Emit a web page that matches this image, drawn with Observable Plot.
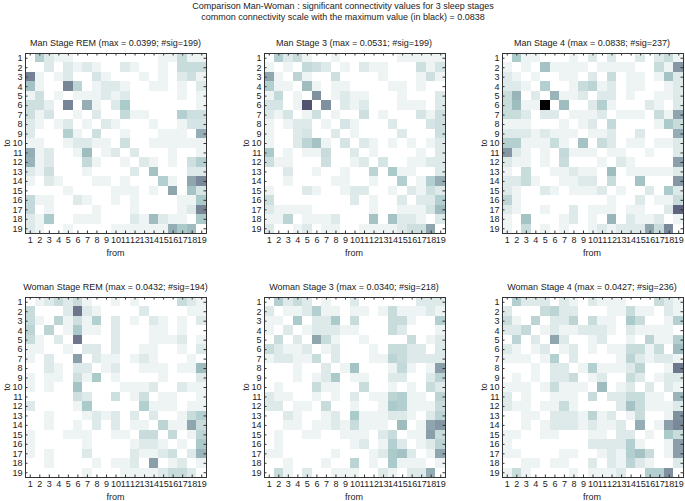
<!DOCTYPE html>
<html><head><meta charset="utf-8">
<script src="https://cdn.jsdelivr.net/npm/d3@7"></script>
<script src="https://cdn.jsdelivr.net/npm/@observablehq/plot@0.6"></script>
<style>
body{margin:0;background:#fff;}
#c{position:relative;width:685px;height:501px;font-family:"Liberation Sans",Arial,sans-serif;color:#222;overflow:hidden;background:#fff;}
.t{position:absolute;white-space:nowrap;font-size:9px;line-height:10px;transform:translate(-50%,-50%);}
.r{position:absolute;white-space:nowrap;font-size:9px;line-height:10px;transform:translate(-50%,-50%) rotate(-90deg);}
.p{position:absolute;}
</style></head><body><div id="c"></div>
<script>
// electrode indices (tick labels)
const nodes = [1,2,3,4,5,6,7,8,9,10,11,12,13,14,15,16,17,18,19];
const mainTitle = ["Comparison Man-Woman : significant connectivity values for 3 sleep stages",
  "common connectivity scale with the maximum value (in black) = 0.0838"];
const globalMax = 83.8; // thousandths
const panelNames = ["Man Stage REM","Man Stage 3","Man Stage 4","Woman Stage REM","Woman Stage 3","Woman Stage 4"];
const maxLabels = ["0.0399","0.0531","0.0838","0.0432","0.0340","0.0427"];
const sigCounts = [199,199,237,194,218,236];

// connectivity values x1000, rows = "to" 1..19, columns = "from" 1..19
const manREM = [
[0,18,8,4,4,0,0,0,0,0,0,0,0,0,4,4,13,4,4],
[0,0,8,0,8,4,8,4,0,0,8,4,0,0,4,0,13,13,13],
[39.9,4,0,4,8,0,0,10,4,0,0,0,4,0,4,0,8,12,4],
[22,4,0,0,39,16,0,4,8,8,4,0,0,4,4,0,4,0,8],
[4,12,0,4,0,4,4,4,8,4,8,0,0,0,0,0,4,0,4],
[12,12,6,0,39,0,28,4,0,8,20,0,0,0,0,0,0,0,4],
[12,4,10,0,0,4,0,8,0,0,14,4,4,0,0,0,18,12,12],
[8,4,0,4,8,0,4,0,8,4,0,0,0,4,0,0,4,10,10],
[8,0,0,0,18,4,0,12,0,0,4,0,0,0,4,4,4,0,28],
[4,4,0,0,4,8,8,4,4,0,12,0,0,4,4,4,4,4,4],
[28,4,8,0,0,4,24,0,4,8,0,8,0,0,0,4,0,0,4],
[26,4,8,0,0,0,14,4,0,0,4,0,8,4,0,4,0,12,18],
[8,4,12,0,0,0,4,0,0,0,0,8,0,22,0,0,0,8,8],
[4,0,8,4,0,0,0,4,4,0,4,0,0,0,18,4,0,30,38],
[0,0,0,0,4,0,0,0,0,4,4,4,0,4,0,30,0,22,10],
[14,4,4,0,0,8,4,0,0,4,0,4,0,0,0,0,4,4,20],
[14,0,4,0,0,0,0,4,0,0,0,4,0,0,0,0,4,8,39],
[8,4,20,0,0,4,4,4,0,0,0,8,4,24,8,4,4,0,20],
[8,4,0,0,4,0,0,0,0,4,4,4,4,4,4,28,20,24,0]];
const man3 = [
[0,18,8,13,4,0,0,4,0,0,0,0,0,0,4,4,4,4,4],
[4,0,4,0,14,12,8,0,4,0,8,4,4,0,0,0,12,4,10],
[30,4,0,16,4,0,0,12,0,0,0,0,4,0,0,0,4,12,4],
[18,4,4,0,24,4,0,4,4,0,0,0,0,4,4,0,4,0,0],
[4,14,0,4,0,36,0,4,8,4,4,0,0,0,4,0,0,0,8],
[10,10,0,4,53.1,0,36,0,8,4,8,0,0,0,4,4,4,0,8],
[8,4,10,0,4,12,0,4,0,0,12,0,4,0,0,0,10,4,12],
[4,0,4,8,8,0,4,0,10,4,0,0,0,8,0,0,0,10,12],
[4,0,0,8,10,0,0,8,0,4,0,0,0,0,8,0,0,0,12],
[4,0,0,8,16,22,4,0,10,0,8,4,0,4,0,4,0,4,8],
[20,0,4,0,4,4,13,0,0,8,0,4,0,0,0,0,4,0,8],
[12,4,4,0,0,0,12,0,0,4,8,0,10,0,0,4,4,8,8],
[0,0,8,0,0,4,0,0,4,0,0,16,0,20,4,4,0,0,8],
[0,0,4,0,0,0,0,4,4,0,0,4,0,0,18,0,4,18,28],
[4,0,0,0,8,4,0,0,4,8,8,0,0,4,0,8,4,12,8],
[12,0,0,0,0,0,0,0,0,8,0,4,0,0,8,0,8,8,18],
[8,4,4,4,4,0,0,0,0,0,0,4,0,0,4,4,4,10,24],
[4,4,16,0,4,4,4,8,0,0,0,22,0,22,8,8,4,0,8],
[8,0,0,4,8,0,4,4,0,0,4,4,4,4,8,12,12,30,0]];
const man4 = [
[0,20,4,4,0,0,0,4,0,8,0,8,0,0,8,0,8,13,4],
[4,0,4,0,22,4,4,4,4,0,4,4,4,4,0,0,13,4,34],
[8,4,0,4,0,0,4,4,0,8,0,13,0,4,4,0,4,22,8],
[8,8,4,0,18,0,0,4,13,16,4,8,0,4,4,0,0,4,8],
[13,26,0,8,0,26,4,4,8,0,8,8,0,4,0,0,4,4,8],
[13,24,4,4,83.8,0,24,0,0,8,18,4,0,0,0,8,4,0,8],
[13,13,8,0,8,8,0,4,4,4,8,0,4,4,4,0,13,4,30],
[4,4,4,0,0,0,4,0,4,8,0,14,0,0,0,0,4,20,13],
[8,8,8,4,8,4,4,4,0,4,4,8,0,0,8,0,0,0,28],
[18,18,4,4,4,13,4,0,22,0,13,8,0,4,4,0,4,4,8],
[34,8,4,0,4,0,14,4,4,4,0,4,4,0,0,4,0,0,8],
[8,4,4,0,4,0,13,0,0,0,4,0,8,4,0,0,0,0,32],
[4,0,13,0,0,4,4,8,4,4,0,24,0,4,4,4,4,4,8],
[8,8,13,4,0,0,4,4,8,8,0,13,0,0,22,0,0,0,34],
[8,4,0,0,8,4,0,4,4,4,8,0,4,0,0,8,0,20,8],
[16,4,0,0,0,0,0,0,0,0,0,4,0,0,8,0,4,4,13],
[8,4,0,0,4,0,0,8,0,4,4,4,0,4,4,0,0,8,48],
[4,0,22,0,0,0,4,8,0,4,0,26,0,8,4,4,8,0,4],
[4,0,13,0,4,0,4,0,0,4,8,4,8,8,8,30,13,38,0]];
const womanREM = [
[0,4,8,13,8,13,4,0,0,4,0,4,0,0,0,0,13,8,4],
[13,0,0,0,8,43.2,8,4,0,0,0,0,8,0,0,0,0,4,4],
[13,4,0,16,4,12,4,18,0,8,0,4,0,8,4,0,4,0,8],
[16,0,16,0,4,20,4,4,0,8,0,0,0,4,4,0,4,0,0],
[13,4,0,8,0,43,0,0,0,8,0,0,0,4,4,4,8,0,4],
[4,4,0,0,4,0,8,8,0,8,0,0,4,4,0,0,4,0,8],
[4,0,8,0,0,32,0,8,4,4,0,4,8,4,0,0,0,4,0],
[0,0,8,4,0,8,8,0,4,8,0,0,4,4,4,0,4,4,24],
[4,0,4,4,0,12,4,20,0,4,0,0,0,0,4,0,0,0,8],
[4,0,4,0,0,22,0,0,0,0,4,4,4,8,0,0,8,4,4],
[0,0,0,0,0,12,8,0,0,12,0,4,12,0,4,4,0,0,4],
[8,0,0,0,0,4,20,0,0,0,0,0,18,4,4,4,0,4,4],
[0,0,4,0,0,0,4,8,4,8,0,8,0,8,0,0,4,13,18],
[0,0,4,0,0,4,0,8,0,8,0,4,4,0,16,4,4,30,13],
[4,0,0,0,4,4,4,0,0,4,4,0,13,13,0,14,0,4,16],
[4,0,0,0,0,0,4,0,0,0,0,4,8,8,4,0,4,0,20],
[4,0,4,0,0,0,8,0,0,0,0,8,4,4,8,12,0,8,26],
[0,0,4,0,0,0,0,4,0,4,4,8,0,32,0,4,8,0,4],
[0,0,0,0,0,0,4,0,0,0,4,4,4,4,8,13,13,8,0]];
const woman3 = [
[0,18,8,13,8,0,4,0,0,8,0,0,0,0,0,0,8,8,8],
[8,0,4,4,8,18,4,4,0,4,4,0,4,13,4,4,4,8,4],
[4,4,0,20,0,8,8,20,0,13,0,0,0,13,13,4,0,0,18],
[4,0,8,0,4,8,8,8,4,4,0,0,0,13,8,0,0,0,4],
[0,13,0,8,0,30,13,4,0,0,4,0,0,0,0,13,0,4,8],
[13,8,4,4,8,0,4,8,0,0,0,4,0,13,13,8,8,0,8],
[4,8,8,4,4,13,0,8,0,0,0,4,4,16,13,8,8,8,8],
[0,0,0,4,0,0,8,0,4,22,0,0,0,4,14,4,0,4,32],
[0,0,0,4,0,4,8,20,0,4,4,0,0,8,8,0,0,8,16],
[0,4,0,0,0,13,4,4,0,0,13,0,0,4,0,4,0,13,8],
[8,4,4,0,0,4,0,4,0,8,0,4,4,16,18,4,4,0,16],
[8,8,0,4,4,0,13,0,0,4,0,0,4,20,18,4,4,4,13],
[0,0,8,4,0,0,4,8,0,20,4,4,4,8,8,4,0,8,16],
[0,0,4,4,0,4,4,8,4,13,4,4,4,0,24,0,4,30,34],
[0,4,0,0,4,4,0,0,4,4,4,0,8,13,0,4,4,32,13],
[0,4,0,0,0,0,0,0,0,4,8,0,4,18,8,0,4,8,16],
[4,4,0,0,0,0,0,4,0,0,0,4,8,20,22,8,0,4,30],
[0,0,4,0,0,0,4,0,0,16,0,4,0,20,4,4,4,0,4],
[0,13,4,0,8,0,0,4,4,4,0,0,8,4,0,8,8,28,0]];
const woman4 = [
[0,18,8,8,8,0,8,4,0,8,4,4,4,0,0,0,13,8,4],
[8,0,0,0,13,16,8,8,0,0,0,4,4,13,4,4,0,8,4],
[13,4,0,16,0,8,8,16,0,13,4,4,0,20,13,0,0,4,18],
[8,8,14,0,4,8,4,4,8,8,8,4,0,8,4,4,4,4,0],
[0,16,0,8,0,30,8,0,0,4,8,0,0,4,0,16,4,4,18],
[8,4,0,4,8,0,4,8,0,4,0,4,4,13,13,4,13,0,24],
[4,4,4,0,4,18,0,8,0,0,0,0,4,16,8,4,8,8,4],
[0,0,0,4,0,8,8,0,4,18,4,4,4,8,16,0,0,4,42.7],
[0,4,0,4,0,8,8,13,0,4,8,0,0,13,8,0,4,8,8],
[4,4,4,0,4,13,4,4,4,0,24,0,4,8,0,8,0,8,4],
[8,0,4,0,0,4,4,4,0,13,0,8,8,13,13,4,4,0,26],
[8,4,4,0,4,4,13,4,0,0,0,0,8,22,13,4,4,4,8],
[0,0,4,4,0,8,8,8,4,16,4,8,0,4,13,0,0,4,36],
[0,0,4,0,4,8,8,8,4,8,4,4,8,0,28,0,4,32,38],
[4,4,0,0,4,4,0,0,0,4,4,0,8,8,0,4,0,20,13],
[4,0,0,0,0,0,0,0,0,8,8,8,8,18,4,0,0,4,32],
[4,4,0,0,0,0,4,4,0,0,4,8,4,18,22,13,0,4,32],
[0,0,4,4,0,4,4,0,0,8,0,8,4,16,8,4,0,0,8],
[4,13,4,0,0,0,0,4,0,4,4,4,8,0,0,18,18,36,0]];
const matrices = [manREM, man3, man4, womanREM, woman3, woman4];

// reversed MATLAB "bone" colormap
function boneR(t) {
  const x = 1 - Math.max(0, Math.min(1, t));
  const hr = Math.min(1, x / 0.375);
  const hg = Math.max(0, Math.min(1, (x - 0.375) / 0.375));
  const hb = Math.max(0, Math.min(1, (x - 0.75) / 0.25));
  const r = (7 * x + hb) / 8, g = (7 * x + hg) / 8, b = (7 * x + hr) / 8;
  return `rgb(${Math.round(r*255)},${Math.round(g*255)},${Math.round(b*255)})`;
}

const c = document.getElementById("c");
function addText(txt, x, y, cls = "t", size) {
  const d = document.createElement("div");
  d.className = cls; d.textContent = txt;
  d.style.left = x + "px"; d.style.top = y + "px";
  if (size) d.style.fontSize = size + "px";
  c.appendChild(d);
}
addText(mainTitle[0], 343, 6);
addText(mainTitle[1], 343, 17);

const frameLefts = [25, 263.5, 501.5];
const frameTops = [52.5, 296.5];
const FW = 181, FH = 180;
const mL = 22, mR = 3, mT = 3, mB = 14;
const ink = "#333";

matrices.forEach((m, k) => {
  const col = k % 3, row = Math.floor(k / 3);
  const fx = frameLefts[col], fy = frameTops[row];
  const cells = m.flatMap((r, i) => r.map((v, j) => ({to: nodes[i], from: nodes[j], v})));
  const svg = Plot.plot({
    width: FW + mL + mR, height: FH + mT + mB,
    marginLeft: mL, marginRight: mR, marginTop: mT, marginBottom: mB,
    style: {fontFamily: "'Liberation Sans', Arial, sans-serif", fontSize: "9px", background: "transparent", color: "#222"},
    x: {domain: [0.5, 19.5]},
    y: {domain: [0.5, 19.5], reverse: true},
    color: {type: "linear", domain: [0, globalMax], interpolate: boneR},
    marks: [
      Plot.rect(cells, {x1: d => d.from - 0.5, x2: d => d.from + 0.5, y1: d => d.to - 0.5, y2: d => d.to + 0.5, fill: "v", shapeRendering: "crispEdges"}),
      Plot.tickX(nodes, {x: d => d, insetBottom: FH - 2.5, stroke: ink}),
      Plot.tickX(nodes, {x: d => d, insetTop: FH - 2.5, stroke: ink}),
      Plot.tickY(nodes, {y: d => d, insetRight: FW - 2.5, stroke: ink}),
      Plot.tickY(nodes, {y: d => d, insetLeft: FW - 2.5, stroke: ink}),
      Plot.frame({stroke: ink}),
      Plot.axisX(nodes, {tickSize: 0, tickPadding: 3, label: null, fontSize: 9}),
      Plot.axisY(nodes, {tickSize: 0, tickPadding: 3, label: null, fontSize: 9})
    ]
  });
  svg.classList.add("p");
  svg.style.left = (fx - mL) + "px";
  svg.style.top = (fy - mT) + "px";
  c.appendChild(svg);
  addText(`${panelNames[k]} (max = ${maxLabels[k]}; #sig=${sigCounts[k]})`, fx + FW / 2, fy - 10);
  addText("from", fx + FW / 2, fy + FH + 20);
  addText("to", fx - 18, fy + FH / 2, "r");
});
</script></body></html>
